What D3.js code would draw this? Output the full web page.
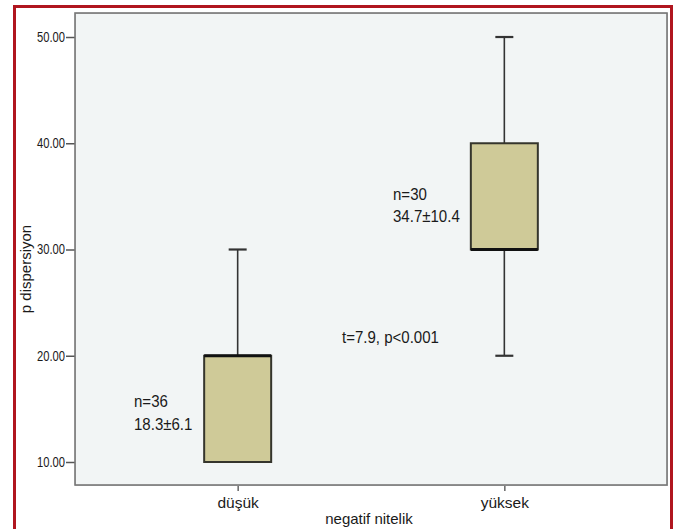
<!DOCTYPE html>
<html><head><meta charset="utf-8">
<script src="https://cdn.jsdelivr.net/npm/d3@7"></script>
<style>
html,body{margin:0;padding:0;background:#fff;}
svg{display:block;}
text{font-family:"Liberation Sans",Arial,sans-serif;fill:#1a1a1a;}
</style></head>
<body>
<script>
// ---- data ----
const categories = ["düşük", "yüksek"];
const whiskerLow  = [10, 20];
const q1          = [10, 30];
const medians     = [20, 30];
const q3          = [20, 40];
const whiskerHigh = [30, 50];
const nLabels     = ["n=36", "n=30"];
const statLabels  = ["18.3±6.1", "34.7±10.4"];
const yTicks      = [10, 20, 30, 40, 50];
const testLabel   = "t=7.9, p<0.001";
const xTitle = "negatif nitelik";
const yTitle = "p dispersiyon";

const W = 678, H = 529;
const plot = {l: 75, t: 13, r: 667, b: 485};

const svg = d3.select("body").append("svg").attr("width", W).attr("height", H);

// red frame
svg.append("path")
  .attr("d", `M14.5,${H+5} L14.5,6.5 L671.5,6.5 L671.5,${H+5}`)
  .attr("fill", "none").attr("stroke", "#b0161f").attr("stroke-width", 3);

const y = d3.scaleLinear().domain([7.835, 52.26]).range([plot.b, plot.t]);
const x = d3.scalePoint().domain(categories).range([plot.l, plot.r]).padding(0.61);

// plot background
svg.append("rect").attr("x", plot.l).attr("y", plot.t)
  .attr("width", plot.r - plot.l).attr("height", plot.b - plot.t)
  .attr("fill", "#f2f5f5");

// y axis
const yAxis = d3.axisLeft(y).tickValues(yTicks).tickFormat(d3.format(".2f")).tickSize(9).tickPadding(0);
const gy = svg.append("g").attr("transform", `translate(${plot.l},0)`).call(yAxis);
gy.select(".domain").remove();
gy.selectAll(".tick line").attr("stroke", "#555").attr("stroke-width", 1.5);
gy.selectAll(".tick text")
  .attr("font-family", "'Liberation Sans',Arial,sans-serif")
  .attr("font-size", 14).attr("fill", "#111")
  .attr("transform", "translate(-10,0) scale(0.8,1)").attr("x", 0);

// x axis
const xAxis = d3.axisBottom(x).tickSize(6).tickPadding(6);
const gx = svg.append("g").attr("transform", `translate(0,${plot.b})`).call(xAxis);
gx.select(".domain").remove();
gx.selectAll(".tick line").attr("stroke", "#666").attr("stroke-width", 1.5);
gx.selectAll(".tick text").attr("font-size", 15.5).attr("fill", "#1a1a1a")
  .attr("font-family", "'Liberation Sans',Arial,sans-serif");

// plot frame
svg.append("rect").attr("x", plot.l + 0.5).attr("y", plot.t + 0.5)
  .attr("width", plot.r - plot.l).attr("height", plot.b - plot.t)
  .attr("fill", "none").attr("stroke", "#c8c8c8").attr("stroke-width", 1);
svg.append("rect").attr("x", plot.l).attr("y", plot.t)
  .attr("width", plot.r - plot.l).attr("height", plot.b - plot.t)
  .attr("fill", "none").attr("stroke", "#777").attr("stroke-width", 1.6);

// boxes
const boxW = 67, capW = 18;
categories.forEach((c, i) => {
  const cx = x(c);
  const g = svg.append("g");
  g.append("line").attr("x1", cx).attr("x2", cx)
    .attr("y1", y(q3[i])).attr("y2", y(whiskerHigh[i]))
    .attr("stroke", "#333").attr("stroke-width", 1.6);
  g.append("line").attr("x1", cx).attr("x2", cx)
    .attr("y1", y(q1[i])).attr("y2", y(whiskerLow[i]))
    .attr("stroke", "#333").attr("stroke-width", 1.6);
  g.append("line").attr("x1", cx - capW/2).attr("x2", cx + capW/2)
    .attr("y1", y(whiskerHigh[i])).attr("y2", y(whiskerHigh[i]))
    .attr("stroke", "#333").attr("stroke-width", 2.2);
  if (whiskerLow[i] < q1[i]) {
    g.append("line").attr("x1", cx - capW/2).attr("x2", cx + capW/2)
      .attr("y1", y(whiskerLow[i])).attr("y2", y(whiskerLow[i]))
      .attr("stroke", "#333").attr("stroke-width", 2.2);
  }
  g.append("rect").attr("x", cx - boxW/2).attr("y", y(q3[i]))
    .attr("width", boxW).attr("height", y(q1[i]) - y(q3[i]))
    .attr("fill", "#cfca98").attr("stroke", "#35352c").attr("stroke-width", 2);
  g.append("line").attr("x1", cx - boxW/2).attr("x2", cx + boxW/2)
    .attr("y1", y(medians[i])).attr("y2", y(medians[i]))
    .attr("stroke", "#111").attr("stroke-width", 3);
});

// annotations
const ann = svg.append("g").attr("font-size", 16);
function note(px, v, txt) {
  ann.append("text").attr("transform", `translate(${px},${y(v)}) scale(0.94,1)`).text(txt);
}
note(134, 15.18, nLabels[0]);
note(134, 13.0, statLabels[0]);
note(393, 34.66, nLabels[1]);
note(393, 32.59, statLabels[1]);
note(342, 21.2, testLabel);

// axis titles
svg.append("text").attr("x", (plot.l + plot.r)/2 - 2).attr("y", 524)
  .attr("text-anchor", "middle").attr("font-size", 15).text(xTitle);
svg.append("text").attr("transform", `translate(31,269) rotate(-90)`)
  .attr("text-anchor", "middle").attr("font-size", 15).text(yTitle);
</script>
</body></html>
